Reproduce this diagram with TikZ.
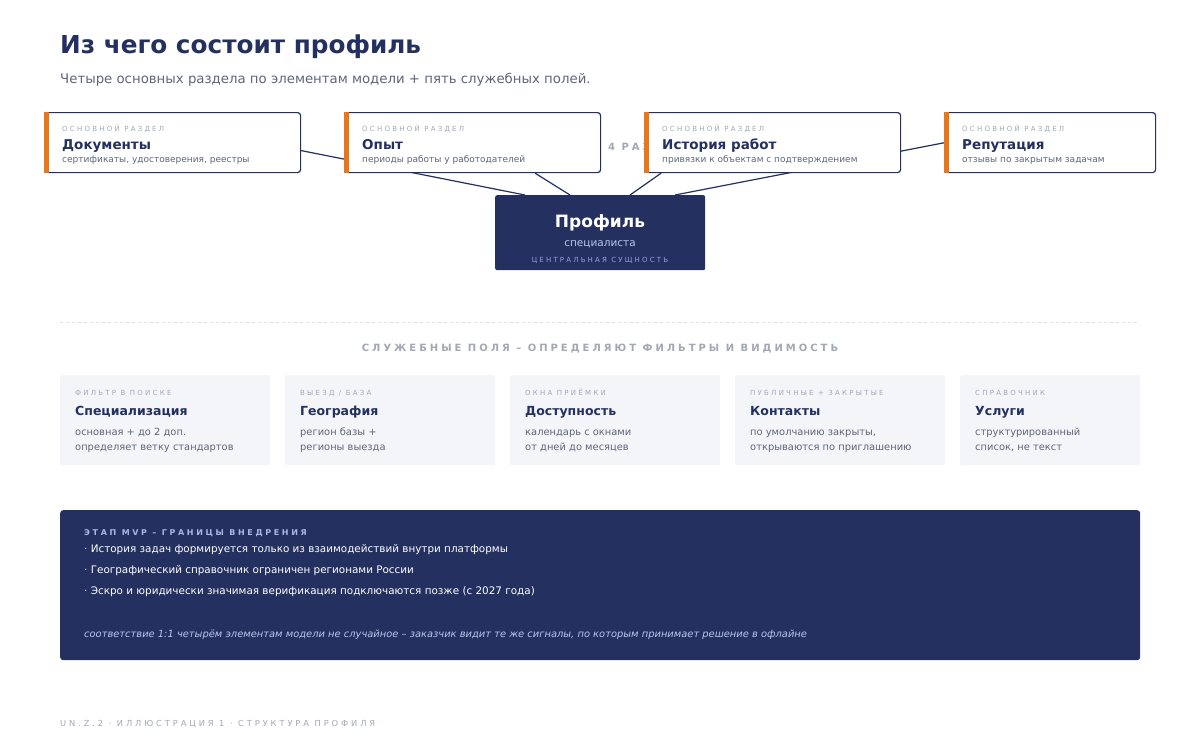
\documentclass[tikz,border=0pt]{standalone}
\usepackage{fontspec}
\setmainfont{DejaVu Sans}
\usetikzlibrary{positioning, calc, backgrounds}

\definecolor{navy}{HTML}{243060}
\definecolor{accent}{HTML}{E8761A}
\definecolor{muted}{HTML}{5F6679}
\definecolor{faint}{HTML}{A3A8B6}
\definecolor{panel}{HTML}{F3F5F9}
\definecolor{ice}{HTML}{A9B6E6}
\definecolor{rule}{HTML}{DDE1EA}
\newcommand\fs[1]{\fontsize{#1}{#1}\selectfont}
\newcommand\track[1]{\addfontfeatures{LetterSpace=#1}}

\begin{document}
\begin{tikzpicture}[
  x=1pt, y=-1pt,
  every node/.style={inner sep=0pt, anchor=base west},
  maincard/.style={draw=navy, line width=1.2pt, rounded corners=3pt, fill=white, minimum height=60pt, anchor=north west},
  sidecard/.style={fill=panel, rounded corners=2pt, minimum height=90pt, anchor=north west},
  tag/.style={text=faint, font=\fs{7}\track{32}},
  head/.style={text=navy, font=\fs{13.5}\bfseries},
  desc/.style={text=muted, font=\fs{9}},
  link/.style={draw=navy, line width=1.2pt}
]
\useasboundingbox (0,0) rectangle (1200,750);

% header
\node[text=navy, font=\fs{24.7}\bfseries] (title) at (60,53) {Из чего состоит профиль};
\node[text=muted, font=\fs{13.3}] (subtitle) at (60,83) {Четыре основных раздела по элементам модели + пять служебных полей.};

% main sections
\foreach \name/\x/\w/\title/\info in {
  doc/45/255/Документы/{сертификаты, удостоверения, реестры},
  exp/345/255/Опыт/{периоды работы у работодателей},
  hist/645/255/История работ/{привязки к объектам с подтверждением},
  rep/945/210/Репутация/{отзывы по закрытым задачам}} {
  \node[maincard, minimum width=\w pt] (\name) at (\x,112) {};
  \fill[accent] ([xshift=-0.6pt]\name.north west) rectangle ([xshift=3.6pt]\name.south west);
  \node[tag] at ([shift={(17,19.5)}]\name.north west) {ОСНОВНОЙ РАЗДЕЛ};
  \node[head] at ([shift={(17,37)}]\name.north west) {\title};
  \node[desc] at ([shift={(17,50.5)}]\name.north west) {\info};
}

% central entity
\node[fill=navy, rounded corners=2pt, minimum width=210pt, minimum height=75pt, anchor=north west] (prof) at (495,195) {};
\node[anchor=base, text=white, font=\fs{17}\bfseries] at (600,227) {Профиль};
\node[anchor=base, text=ice!80!white, font=\fs{10.5}] at (600,246) {специалиста};
\node[anchor=base, text=ice!85!navy, font=\fs{7}\track{31}] at (600,262.5) {ЦЕНТРАЛЬНАЯ СУЩНОСТЬ};

\coordinate (p1) at ([xshift=30pt]prof.north west);
\coordinate (p2) at ([xshift=75pt]prof.north west);
\coordinate (p3) at ([xshift=135pt]prof.north west);
\coordinate (p4) at ([xshift=180pt]prof.north west);

\begin{scope}[on background layer]
  \fill[white] (0,0) rectangle (1200,750);
  \node[text=faint, font=\fs{10}\bfseries\track{30}] (count) at (608,150) {4 РАЗДЕЛА};
  \draw[link] ([yshift=-8pt]doc.east) -- (p1);
  \draw[link] ([xshift=62pt]exp.south) -- (p2);
  \draw[link] ([xshift=-112pt]hist.south) -- (p3);
  \draw[link] (rep.west) -- (p4);
\end{scope}

% service fields
\draw[rule, line width=1pt, dash pattern=on 3pt off 3pt] (60,322) -- (1140,322);
\node[anchor=base, text=faint, font=\fs{10}\bfseries\track{30}] (svc) at (600,351) {СЛУЖЕБНЫЕ ПОЛЯ – ОПРЕДЕЛЯЮТ ФИЛЬТРЫ И ВИДИМОСТЬ};

\foreach \name/\x/\w/\label/\title/\one/\two in {
  spec/60/210/{ФИЛЬТР В ПОИСКЕ}/Специализация/{основная + до 2 доп.}/{определяет ветку стандартов},
  geo/285/210/{ВЫЕЗД / БАЗА}/География/{регион базы +}/{регионы выезда},
  avail/510/210/{ОКНА ПРИЁМКИ}/Доступность/{календарь с окнами}/{от дней до месяцев},
  cont/735/210/{ПУБЛИЧНЫЕ + ЗАКРЫТЫЕ}/Контакты/{по умолчанию закрыты,}/{открываются по приглашению},
  serv/960/180/{СПРАВОЧНИК}/Услуги/{структурированный}/{список, не текст}} {
  \node[sidecard, minimum width=\w pt] (\name) at (\x,375) {};
  \node[tag] at ([shift={(15,20.5)}]\name.north west) {\label};
  \node[head, font=\fs{12.5}\bfseries] at ([shift={(15,40.5)}]\name.north west) {\title};
  \node[desc, font=\fs{9.9}] at ([shift={(15,60)}]\name.north west) {\one};
  \node[desc, font=\fs{9.9}] at ([shift={(15,75)}]\name.north west) {\two};
}

% MVP scope
\node[fill=navy, rounded corners=3pt, minimum width=1080pt, minimum height=150pt, anchor=north west] (mvp) at (60,510) {};
\node[text=ice, font=\fs{8}\bfseries\track{33}] at (84,535) {ЭТАП MVP – ГРАНИЦЫ ВНЕДРЕНИЯ};
\node[text=white, font=\fs{10.4}] at (84,552) {· История задач формируется только из взаимодействий внутри платформы};
\node[text=white, font=\fs{10.4}] at (84,573) {· Географический справочник ограничен регионами России};
\node[text=white, font=\fs{10.4}] at (84,594) {· Эскро и юридически значимая верификация подключаются позже (с 2027 года)};
\node[text=ice!80!white, font=\fs{9.9}\itshape] at (84,637) {соответствие 1:1 четырём элементам модели не случайное – заказчик видит те же сигналы, по которым принимает решение в офлайне};

% footer
\node[text=faint, font=\fs{8.3}\track{35}] (foot) at (60,726) {UN.Z.2 · ИЛЛЮСТРАЦИЯ 1 · СТРУКТУРА ПРОФИЛЯ};
\end{tikzpicture}
\end{document}
